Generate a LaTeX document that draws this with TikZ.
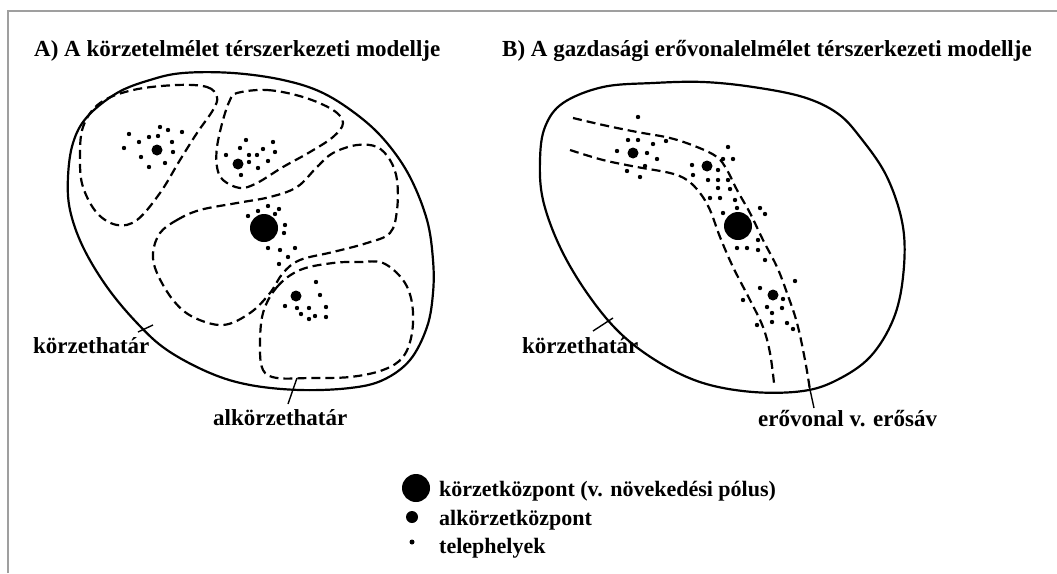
\documentclass[tikz,border=0pt]{standalone}
\usepackage{fontspec}
\setmainfont{Liberation Serif}

\begin{document}
\begin{tikzpicture}[x=1pt, y=-1pt,
    hatar/.style={line width=2.2pt},
    alhatar/.style={line width=2.2pt, dash pattern=on 9pt off 5pt},
    cimke/.style={font=\fontsize{23}{27}\selectfont\bfseries, inner sep=0pt, anchor=base west},
    jelcimke/.style={cimke, font=\fontsize{22}{26}\selectfont\bfseries},
    telep/.style={circle, fill, inner sep=0pt, minimum size=4.4pt},
    alkozpont/.style={circle, fill, inner sep=0pt, minimum size=11pt},
    kozpont/.style={circle, fill, inner sep=0pt, minimum size=28pt}]
    \useasboundingbox (0,0) rectangle (1057,573);
    \draw[gray!75, line width=1.6pt] (8,573) -- (8,11) -- (1057,11);

    \node[cimke] (cimA) at (34,56) {A) A körzetelmélet térszerkezeti modellje};
    \node[cimke] (cimB) at (502,56) {B) A gazdasági erővonalelmélet térszerkezeti modellje};

    % A) korzetek
    \draw[hatar] plot[smooth cycle, tension=0.6] coordinates {(233,73) (283,80) (323,93) (360,117) (387,143) (410,177) (427,220) (433,260) (433,293) (427,327) (410,360) (383,380) (350,388) (300,390) (250,385) (210,373) (167,350) (137,323) (107,287) (83,247) (70,210) (68,177) (73,143) (87,117) (117,93) (150,80) (183,73)};
    \draw[alhatar] plot[smooth cycle, tension=0.6] coordinates {(177,85) (207,87) (217,97) (213,110) (197,133) (180,160) (160,193) (137,220) (117,225) (97,213) (83,187) (80,160) (83,127) (100,103) (133,90)};
    \draw[alhatar] plot[smooth cycle, tension=0.6] coordinates {(237,93) (267,90) (303,97) (333,110) (343,123) (333,137) (310,152) (283,167) (257,183) (240,188) (223,180) (217,167) (217,147) (223,120) (230,100)};
    \draw[alhatar] plot[smooth cycle, tension=0.6] coordinates {(160,233) (177,220) (200,210) (237,203) (270,197) (297,187) (317,167) (333,153) (357,145) (377,147) (390,160) (397,180) (397,210) (390,233) (367,243) (333,252) (300,260) (283,273) (270,293) (250,313) (223,325) (193,317) (173,300) (157,273) (153,253)};
    \draw[alhatar] plot[smooth cycle, tension=0.6] coordinates {(263,313) (277,287) (300,270) (333,263) (360,262) (383,263) (403,280) (412,303) (412,333) (403,357) (383,370) (350,377) (310,378) (277,378) (263,370) (260,347)};

    \foreach \p [count=\i] in {(129,134),(160,127),(168,130),(182,132),(124,148),(139,142),(149,137),(158,136),(172,142),(173,152),(141,157),(165,163),(149,167),
        (246,140),(273,142),(240,148),(263,149),(226,155),(249,155),(257,155),(275,152),(249,162),(268,161),(258,168),(241,175),
        (268,206),(279,209),(258,211),(275,214),(248,216),(285,225),(284,233),(268,248),(280,250),(295,248),(288,257),(279,264),
        (316,282),(320,295),(285,306),(297,308),(309,308),(326,307),(301,314),(309,319),(315,316),(326,317)}
        \node[telep] (ta\i) at \p {};
    \node[alkozpont] (alA1) at (157,150) {};
    \node[alkozpont] (alA2) at (238,164) {};
    \node[alkozpont] (alA3) at (296,296) {};
    \node[kozpont] (kozA) at (264,228) {};

    \node[cimke] (khA) at (33,353) {körzethatár};
    \node[cimke] (akh) at (213,425) {alkörzethatár};
    \coordinate (khA1) at (138,332);
    \coordinate (khA2) at (153,325);
    \coordinate (akh1) at (288,404);
    \coordinate (akh2) at (297,378);
    \draw[line width=1.4pt] (khA1) -- (khA2);
    \draw[line width=1.4pt] (akh1) -- (akh2);

    % B) erovonal
    \draw[hatar] plot[smooth cycle, tension=0.6] coordinates {(653,83) (703,82) (753,87) (803,97) (837,113) (860,137) (887,177) (903,227) (903,277) (893,320) (870,357) (837,380) (803,391) (753,392) (703,383) (660,363) (620,333) (587,293) (560,247) (543,200) (540,160) (545,127) (563,103) (603,87)};
    \draw[alhatar] plot[smooth, tension=0.6] coordinates {(573,118) (603,125) (637,132) (670,138) (697,147) (717,157) (727,170) (737,190) (750,213) (763,240) (777,267) (787,293) (797,323) (805,360) (810,390)};
    \draw[alhatar] plot[smooth, tension=0.6] coordinates {(570,150) (603,160) (637,167) (670,173) (687,180) (700,193) (710,210) (720,237) (733,267) (750,300) (763,327) (770,353) (774,383)};

    \foreach \p [count=\i] in {(638,117),(628,140),(638,140),(653,144),(666,141),(617,151),(647,153),(657,159),(627,171),(645,166),(640,177),
        (728,147),(733,159),(723,159),(692,165),(693,175),(718,170),(708,180),(718,180),(728,180),(718,188),(730,189),
        (710,198),(720,198),(735,200),(723,213),(737,208),(760,208),(765,214),
        (758,240),(737,248),(747,248),(758,250),(765,260),
        (795,281),(760,288),(743,300),(783,299),(767,307),(782,308),(772,313),(757,325),(772,322),(787,323),(793,329)}
        \node[telep] (tb\i) at \p {};
    \node[alkozpont] (alB1) at (633,153) {};
    \node[alkozpont] (alB2) at (707,166) {};
    \node[alkozpont] (alB3) at (773,295) {};
    \node[kozpont] (kozB) at (738,226) {};

    \node[cimke] (khB) at (522,353) {körzethatár};
    \node[cimke] (ev) at (758,426) {erővonal v. erősáv};
    \coordinate (khB1) at (593,331);
    \coordinate (khB2) at (613,318);
    \coordinate (ev1) at (809,385);
    \coordinate (ev2) at (814,408);
    \draw[line width=1.4pt] (khB1) -- (khB2);
    \draw[line width=1.4pt] (ev1) -- (ev2);

    % jelmagyarazat
    \node[kozpont] (jk) at (416,488) {};
    \node[alkozpont, minimum size=12pt] (jak) at (412,517) {};
    \node[telep, minimum size=5pt] (jt) at (412,542) {};
    \node[jelcimke] (jkt) at (439,496) {körzetközpont (v. növekedési pólus)};
    \node[jelcimke] (jakt) at (439,525) {alkörzetközpont};
    \node[jelcimke] (jtt) at (439,553) {telephelyek};
\end{tikzpicture}
\end{document}
